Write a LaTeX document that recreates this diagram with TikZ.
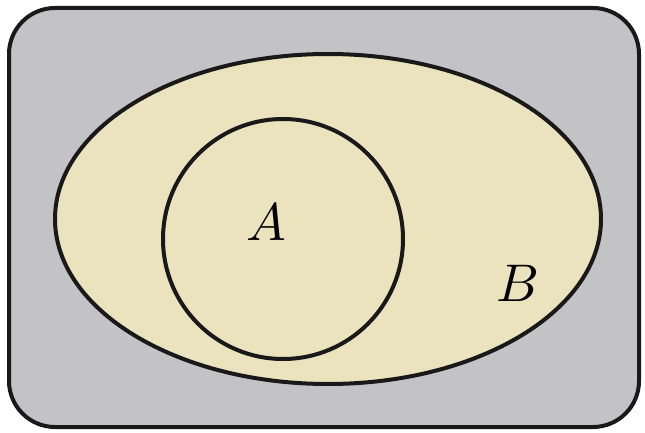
\documentclass[tikz,border=0pt]{standalone}
\usetikzlibrary{shapes.geometric}
\begin{document}
\begin{tikzpicture}[x=1pt,y=-1pt,
  outline/.style={draw=black!90, line width=4pt},
  lbl/.style={scale=5.3}]
\definecolor{bggray}{HTML}{C3C3C5}
\definecolor{beige}{HTML}{EBE3BE}
\useasboundingbox (0,0) rectangle (645,433);
\draw[outline, fill=bggray, rounded corners=46pt] (9,8) rectangle (639,427);
\node[outline, fill=beige, ellipse, minimum width=546pt, minimum height=330pt, inner sep=0pt] (B) at (328,219) {};
\node[outline, circle, minimum size=240pt, inner sep=0pt] (A) at (283,239) {};
\node[lbl] (la) at (266,222) {$A$};
\node[lbl] (lb) at (518,283) {$B$};
\end{tikzpicture}
\end{document}
